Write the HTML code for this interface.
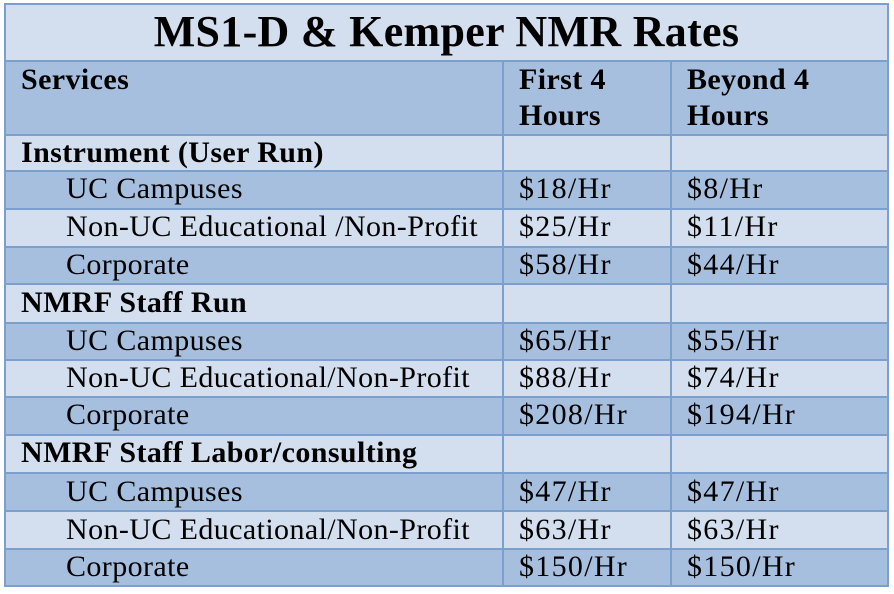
<!DOCTYPE html>
<html>
<head>
<meta charset="utf-8">
<style>
  html, body { margin:0; padding:0; background:#ffffff; }
  body { width:894px; height:594px; position:relative; overflow:hidden;
         font-family:"Liberation Serif", "DejaVu Serif", serif; color:#000; }
  .bg { position:absolute; left:5px; width:883px; }
  .l { background:#D3DFEE; }
  .d { background:#A7BFDE; }
  .h { position:absolute; left:4px; width:885px; height:2px; background:#7BA0CD; }
  .v { position:absolute; width:2px; background:#7BA0CD; }
  .t { position:absolute; font-size:30px; line-height:30px; white-space:nowrap; letter-spacing:0.4px; }
  .n { letter-spacing:1.3px; }
  .b { font-weight:bold; }
  .title { position:absolute; left:5px; width:883px; text-align:center; font-size:44px; line-height:44px; font-weight:bold; white-space:nowrap; top:10px; letter-spacing:0.3px; }
</style>
</head>
<body>
  <!-- backgrounds -->
  <div class="bg l" style="top:4px;height:57px"></div>
  <div class="bg d" style="top:61px;height:74px"></div>
  <div class="bg l" style="top:135px;height:36px"></div>
  <div class="bg d" style="top:171px;height:38px"></div>
  <div class="bg l" style="top:209px;height:38px"></div>
  <div class="bg d" style="top:247px;height:37px"></div>
  <div class="bg l" style="top:284px;height:39px"></div>
  <div class="bg d" style="top:323px;height:37px"></div>
  <div class="bg l" style="top:360px;height:37px"></div>
  <div class="bg d" style="top:397px;height:38px"></div>
  <div class="bg l" style="top:435px;height:38px"></div>
  <div class="bg d" style="top:473px;height:38px"></div>
  <div class="bg l" style="top:511px;height:38px"></div>
  <div class="bg d" style="top:549px;height:37px"></div>

  <!-- horizontal lines -->
  <div class="h" style="top:3px"></div>
  <div class="h" style="top:60px"></div>
  <div class="h" style="top:134px"></div>
  <div class="h" style="top:170px"></div>
  <div class="h" style="top:208px"></div>
  <div class="h" style="top:246px"></div>
  <div class="h" style="top:283px"></div>
  <div class="h" style="top:322px"></div>
  <div class="h" style="top:359px"></div>
  <div class="h" style="top:396px"></div>
  <div class="h" style="top:434px"></div>
  <div class="h" style="top:472px"></div>
  <div class="h" style="top:510px"></div>
  <div class="h" style="top:548px"></div>
  <div class="h" style="top:585px"></div>

  <!-- vertical lines -->
  <div class="v" style="left:4px;top:3px;height:584px"></div>
  <div class="v" style="left:887px;top:3px;height:584px"></div>
  <div class="v" style="left:502px;top:60px;height:527px"></div>
  <div class="v" style="left:670px;top:60px;height:527px"></div>

  <!-- title -->
  <div class="title">MS1-D &amp; Kemper NMR Rates</div>

  <!-- header -->
  <div class="t b" style="left:21px;top:65px">Services</div>
  <div class="t b" style="left:519px;top:65px">First 4</div>
  <div class="t b" style="left:519px;top:101px">Hours</div>
  <div class="t b" style="left:687px;top:65px">Beyond 4</div>
  <div class="t b" style="left:687px;top:101px">Hours</div>

  <!-- section 1 -->
  <div class="t b" style="left:21px;top:138px">Instrument (User Run)</div>

  <div class="t" style="left:66px;top:174px">UC Campuses</div>
  <div class="t n" style="left:519px;top:174px">$18/Hr</div>
  <div class="t n" style="left:687px;top:174px">$8/Hr</div>

  <div class="t" style="left:66px;top:212px">Non-UC Educational /Non-Profit</div>
  <div class="t n" style="left:519px;top:212px">$25/Hr</div>
  <div class="t n" style="left:687px;top:212px">$11/Hr</div>

  <div class="t" style="left:66px;top:250px">Corporate</div>
  <div class="t n" style="left:519px;top:250px">$58/Hr</div>
  <div class="t n" style="left:687px;top:250px">$44/Hr</div>

  <!-- section 2 -->
  <div class="t b" style="left:21px;top:288px">NMRF Staff Run</div>

  <div class="t" style="left:66px;top:326px">UC Campuses</div>
  <div class="t n" style="left:519px;top:326px">$65/Hr</div>
  <div class="t n" style="left:687px;top:326px">$55/Hr</div>

  <div class="t" style="left:66px;top:363px">Non-UC Educational/Non-Profit</div>
  <div class="t n" style="left:519px;top:363px">$88/Hr</div>
  <div class="t n" style="left:687px;top:363px">$74/Hr</div>

  <div class="t" style="left:66px;top:400px">Corporate</div>
  <div class="t n" style="left:519px;top:400px">$208/Hr</div>
  <div class="t n" style="left:687px;top:400px">$194/Hr</div>

  <!-- section 3 -->
  <div class="t b" style="left:21px;top:438px">NMRF Staff Labor/consulting</div>

  <div class="t" style="left:66px;top:477px">UC Campuses</div>
  <div class="t n" style="left:519px;top:477px">$47/Hr</div>
  <div class="t n" style="left:687px;top:477px">$47/Hr</div>

  <div class="t" style="left:66px;top:515px">Non-UC Educational/Non-Profit</div>
  <div class="t n" style="left:519px;top:515px">$63/Hr</div>
  <div class="t n" style="left:687px;top:515px">$63/Hr</div>

  <div class="t" style="left:66px;top:552px">Corporate</div>
  <div class="t n" style="left:519px;top:552px">$150/Hr</div>
  <div class="t n" style="left:687px;top:552px">$150/Hr</div>
</body>
</html>
